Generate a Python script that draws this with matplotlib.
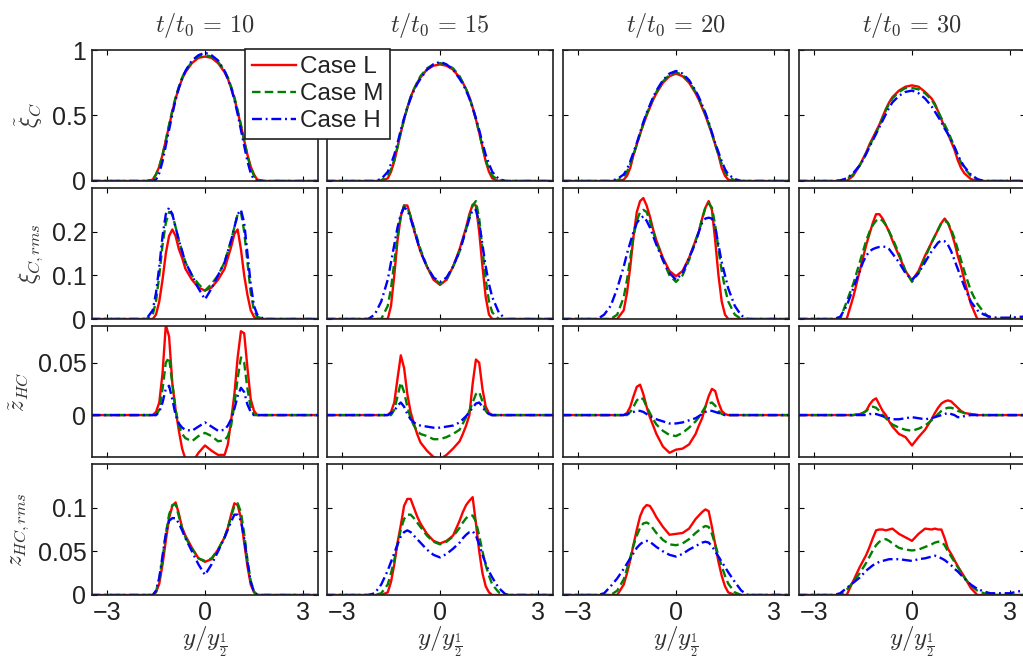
import numpy as np
import matplotlib
matplotlib.use('Agg')
import matplotlib.pyplot as plt

# ---------------- data ----------------
X = [-3.5, -3.0, -2.6, -2.4, -2.2, -2.0, -1.8,
     -1.6, -1.5, -1.4, -1.3, -1.2, -1.1, -1.0, -0.9, -0.8, -0.7, -0.6,
     -0.4, -0.2, 0.0, 0.2, 0.4,
     0.6, 0.7, 0.8, 0.9, 1.0, 1.1, 1.2, 1.3, 1.4, 1.5, 1.6,
     1.8, 2.0, 2.2, 2.4, 2.6, 3.0, 3.5]

times = [10, 15, 20, 30]
cases = ['Case L', 'Case M', 'Case H']

# row 1: filtered mixture fraction xi_C
xiC_t10 = [
    [0,0,0,0,0,0,0, 0.01,0.05,0.11,0.20,0.31,0.42,0.53,0.63,0.71,0.78,0.83, 0.90,0.94, 0.95, 0.94,0.90, 0.83,0.78,0.71,0.63,0.53,0.42,0.31,0.20,0.11,0.05,0.01, 0,0,0,0,0,0,0],
    [0,0,0,0,0,0,0, 0.01,0.05,0.11,0.20,0.31,0.43,0.54,0.64,0.72,0.79,0.84, 0.91,0.95, 0.96, 0.95,0.91, 0.84,0.79,0.72,0.64,0.54,0.43,0.31,0.19,0.10,0.04,0.01, 0,0,0,0,0,0,0],
    [0,0,0,0,0,0,0, 0,0.01,0.06,0.15,0.27,0.39,0.51,0.62,0.71,0.78,0.84, 0.92,0.96, 0.98, 0.96,0.92, 0.84,0.78,0.71,0.62,0.51,0.39,0.27,0.15,0.06,0.01,0, 0,0,0,0,0,0,0]]
xiC_t15 = [
    [0,0,0,0,0,0,0, 0.02,0.07,0.15,0.26,0.37,0.47,0.56,0.64,0.70,0.75,0.79, 0.85,0.88, 0.89, 0.88,0.85, 0.79,0.75,0.70,0.64,0.56,0.47,0.37,0.26,0.15,0.07,0.02, 0,0,0,0,0,0,0],
    [0,0,0,0,0,0,0.005, 0.04,0.09,0.16,0.26,0.37,0.47,0.56,0.64,0.70,0.75,0.80, 0.86,0.89, 0.90, 0.89,0.86, 0.80,0.75,0.70,0.64,0.56,0.47,0.37,0.26,0.16,0.09,0.04, 0.005,0,0,0,0,0,0],
    [0,0,0,0,0,0,0.015, 0.07,0.13,0.20,0.29,0.39,0.48,0.56,0.63,0.69,0.74,0.78, 0.85,0.89, 0.91, 0.89,0.85, 0.78,0.74,0.69,0.63,0.56,0.48,0.39,0.29,0.20,0.13,0.07, 0.015,0,0,0,0,0,0]]
xiC_t20 = [
    [0,0,0,0,0,0,0, 0.01,0.04,0.10,0.20,0.28,0.36,0.43,0.50,0.56,0.62,0.67, 0.75,0.80, 0.82, 0.80,0.75, 0.67,0.62,0.56,0.50,0.43,0.36,0.28,0.20,0.10,0.04,0.01, 0,0,0,0,0,0,0],
    [0,0,0,0,0,0,0.005, 0.03,0.07,0.13,0.20,0.28,0.36,0.44,0.51,0.57,0.63,0.68, 0.76,0.81, 0.83, 0.81,0.76, 0.68,0.63,0.57,0.51,0.44,0.36,0.28,0.20,0.13,0.07,0.03, 0.005,0,0,0,0,0,0],
    [0,0,0,0,0,0,0.015, 0.05,0.09,0.15,0.22,0.29,0.37,0.45,0.52,0.58,0.64,0.69, 0.77,0.82, 0.84, 0.82,0.77, 0.69,0.64,0.58,0.52,0.45,0.37,0.29,0.22,0.15,0.09,0.05, 0.015,0,0,0,0,0,0]]
xiC_t30 = [
    [0,0,0,0,0,0,0.04, 0.12,0.17,0.22,0.28,0.33,0.38,0.43,0.49,0.55,0.60,0.64, 0.69,0.72, 0.73, 0.72,0.68, 0.63,0.59,0.53,0.47,0.41,0.36,0.30,0.24,0.16,0.10,0.06, 0.015,0,0,0,0,0,0],
    [0,0,0,0,0,0.015,0.05, 0.12,0.16,0.21,0.27,0.32,0.37,0.42,0.48,0.54,0.59,0.63, 0.68,0.71, 0.71, 0.70,0.67, 0.62,0.58,0.53,0.48,0.43,0.38,0.32,0.26,0.20,0.14,0.10, 0.04,0.01,0,0,0,0,0],
    [0,0,0,0,0.005,0.02,0.06, 0.12,0.16,0.21,0.26,0.31,0.36,0.41,0.46,0.51,0.56,0.60, 0.65,0.68, 0.69, 0.67,0.63, 0.57,0.53,0.49,0.45,0.40,0.36,0.31,0.26,0.20,0.15,0.11, 0.05,0.015,0,0,0,0,0]]

# row 2: xi_C,rms
xirms_t10 = [
    [0,0,0,0,0,0,0, 0,0.01,0.04,0.09,0.15,0.19,0.205,0.19,0.16,0.14,0.115, 0.09,0.072, 0.065, 0.072,0.09, 0.115,0.14,0.165,0.195,0.205,0.16,0.10,0.055,0.02,0.005,0, 0,0,0,0,0,0,0],
    [0,0,0,0,0,0,0, 0.01,0.04,0.10,0.17,0.22,0.245,0.24,0.21,0.18,0.155,0.13, 0.10,0.08, 0.065, 0.08,0.10, 0.13,0.155,0.18,0.21,0.24,0.245,0.20,0.13,0.06,0.02,0.005, 0,0,0,0,0,0,0],
    [0,0,0,0,0,0,0, 0.02,0.06,0.12,0.19,0.24,0.255,0.24,0.21,0.18,0.155,0.13, 0.10,0.07, 0.045, 0.07,0.10, 0.13,0.155,0.18,0.21,0.24,0.25,0.22,0.15,0.08,0.03,0.01, 0,0,0,0,0,0,0]]
xirms_t15 = [
    [0,0,0,0,0,0,0, 0,0.03,0.10,0.18,0.235,0.26,0.26,0.235,0.205,0.18,0.155, 0.12,0.09, 0.078, 0.09,0.12, 0.16,0.185,0.21,0.24,0.262,0.26,0.20,0.12,0.05,0.01,0, 0,0,0,0,0,0,0],
    [0,0,0,0,0,0,0, 0.03,0.07,0.13,0.19,0.235,0.26,0.255,0.235,0.21,0.185,0.16, 0.12,0.095, 0.08, 0.09,0.12, 0.155,0.18,0.205,0.235,0.26,0.27,0.23,0.16,0.09,0.04,0.015, 0,0,0,0,0,0,0],
    [0,0,0,0,0,0.01,0.04, 0.09,0.13,0.17,0.21,0.24,0.255,0.25,0.23,0.205,0.18,0.155, 0.12,0.095, 0.085, 0.095,0.12, 0.155,0.18,0.205,0.23,0.25,0.25,0.22,0.17,0.12,0.08,0.05, 0.015,0,0,0,0,0,0]]
xirms_t20 = [
    [0,0,0,0,0,0,0, 0.02,0.06,0.12,0.19,0.245,0.27,0.277,0.26,0.235,0.205,0.18, 0.14,0.11, 0.098, 0.11,0.14, 0.18,0.20,0.23,0.255,0.27,0.25,0.18,0.10,0.04,0.01,0, 0,0,0,0,0,0,0],
    [0,0,0,0,0,0,0.01, 0.05,0.09,0.14,0.19,0.225,0.245,0.25,0.245,0.225,0.20,0.175, 0.135,0.10, 0.085, 0.10,0.135, 0.18,0.20,0.23,0.255,0.265,0.255,0.215,0.16,0.11,0.07,0.04, 0.01,0,0,0,0,0,0],
    [0,0,0,0,0.01,0.03,0.07, 0.12,0.15,0.175,0.20,0.22,0.23,0.235,0.225,0.21,0.19,0.17, 0.135,0.105, 0.09, 0.105,0.14, 0.175,0.20,0.22,0.23,0.232,0.23,0.21,0.17,0.13,0.10,0.07, 0.03,0.008,0,0,0,0,0]]
xirms_t30 = [
    [0,0,0,0,0,0,0.05, 0.11,0.14,0.17,0.195,0.22,0.24,0.24,0.23,0.215,0.20,0.18, 0.145,0.11, 0.088, 0.11,0.145, 0.175,0.19,0.205,0.22,0.23,0.22,0.20,0.175,0.145,0.12,0.09, 0.035,0,0,0,0,0,0],
    [0,0,0,0,0,0.04,0.08, 0.13,0.155,0.18,0.20,0.215,0.225,0.23,0.225,0.215,0.20,0.185, 0.15,0.11, 0.085, 0.105,0.14, 0.175,0.19,0.205,0.22,0.225,0.22,0.205,0.185,0.16,0.135,0.11, 0.065,0.035,0.015,0,0,0,0],
    [0,0,0,0,0.005,0.03,0.07, 0.11,0.13,0.145,0.155,0.16,0.163,0.165,0.166,0.165,0.16,0.15, 0.13,0.105, 0.09, 0.105,0.13, 0.155,0.165,0.175,0.18,0.178,0.17,0.155,0.135,0.115,0.095,0.075, 0.04,0.02,0.01,0.005,0.003,0.003,0.006]]

# row 3: filtered z_HC
zHC_t10 = [
    [0,0,0,0,0,0,0, 0,0.003,0.012,0.04,0.086,0.075,0.03,0.005,-0.015,-0.032,-0.042, -0.046,-0.036, -0.029, -0.034,-0.038, -0.038,-0.028,-0.005,0.02,0.055,0.08,0.078,0.045,0.015,0.004,0, 0,0,0,0,0,0,0],
    [0,0,0,0,0,0,0, 0,0,0.005,0.025,0.05,0.055,0.03,0.005,-0.01,-0.018,-0.022, -0.025,-0.02, -0.017, -0.02,-0.025, -0.024,-0.02,-0.01,0.01,0.035,0.055,0.05,0.025,0.007,0,0, 0,0,0,0,0,0,0],
    [0,0,0,0,0,0,0, 0,0,0.003,0.012,0.025,0.028,0.015,0,-0.008,-0.012,-0.014, -0.015,-0.011, -0.007, -0.011,-0.015, -0.014,-0.01,-0.004,0.006,0.018,0.026,0.022,0.01,0.003,0,0, 0,0,0,0,0,0,0]]
zHC_t15 = [
    [0,0,0,0,0,0,0, 0,0.003,0.012,0.035,0.057,0.045,0.02,0.003,-0.008,-0.018,-0.026, -0.034,-0.04, -0.042, -0.038,-0.032, -0.025,-0.018,-0.01,0.0,0.03,0.053,0.05,0.025,0.008,0.002,0, 0,0,0,0,0,0,0],
    [0,0,0,0,0,0,0, 0,0,0.005,0.018,0.031,0.022,0.008,-0.003,-0.01,-0.015,-0.018, -0.02,-0.023, -0.023, -0.021,-0.018, -0.014,-0.008,-0.002,0.004,0.012,0.02,0.022,0.013,0.004,0,0, 0,0,0,0,0,0,0],
    [0,0,0,0,0,0,0, 0,0.002,0.004,0.009,0.012,0.008,0.001,-0.004,-0.007,-0.009,-0.01, -0.011,-0.012, -0.012, -0.011,-0.01, -0.007,-0.004,-0.001,0.003,0.007,0.011,0.012,0.008,0.003,0.001,0, 0,0,0,0,0,0,0]]
zHC_t20 = [
    [0,0,0,0,0,0,0, 0,0.002,0.008,0.018,0.027,0.029,0.02,0.008,-0.002,-0.01,-0.018, -0.03,-0.036, -0.033, -0.032,-0.028, -0.018,-0.01,-0.003,0.008,0.018,0.025,0.023,0.012,0.004,0.001,0, 0,0,0,0,0,0,0],
    [0,0,0,0,0,0,0, 0,0,0.003,0.008,0.014,0.017,0.015,0.008,0.002,-0.004,-0.009, -0.015,-0.019, -0.02, -0.017,-0.012, -0.006,-0.002,0.003,0.008,0.011,0.012,0.009,0.004,0.001,0,0, 0,0,0,0,0,0,0],
    [0,0,0,0,0,0,0, 0,0.001,0.002,0.003,0.004,0.004,0.003,0.001,-0.001,-0.003,-0.004, -0.006,-0.008, -0.008, -0.007,-0.005, -0.003,-0.001,0.001,0.003,0.004,0.004,0.003,0.002,0.001,0,0, 0,0,0,0,0,0,0]]
zHC_t30 = [
    [0,0,0,0,0,0,0, 0.001,0.002,0.004,0.01,0.014,0.016,0.01,0.004,0.0,-0.006,-0.011, -0.018,-0.021, -0.029, -0.021,-0.014, -0.004,0.002,0.007,0.011,0.013,0.014,0.013,0.01,0.007,0.004,0.002, 0.001,0,0,0,0,0,0],
    [0,0,0,0,0,0,0, 0.001,0.002,0.004,0.007,0.008,0.007,0.004,0.0,-0.003,-0.006,-0.009, -0.012,-0.014, -0.015, -0.013,-0.01, -0.005,-0.002,0.001,0.004,0.006,0.007,0.007,0.006,0.004,0.003,0.002, 0.001,0,0,0,0,0,0],
    [0,0,0,0,0,0,0, 0,0,0,0.001,0.001,0.001,0.0,-0.001,-0.002,-0.003,-0.004, -0.004,-0.003, -0.002, -0.003,-0.004, -0.003,-0.002,-0.001,0.0,0.001,0.002,0.001,0.0,-0.002,-0.002,-0.001, 0,0,0,0,0,0,0]]

# row 4: z_HC,rms
zrms_t10 = [
    [0,0,0,0,0,0,0, 0,0.003,0.013,0.035,0.062,0.088,0.102,0.106,0.093,0.077,0.068, 0.054,0.042, 0.038, 0.041,0.052, 0.066,0.077,0.092,0.105,0.103,0.088,0.06,0.033,0.012,0.003,0, 0,0,0,0,0,0,0],
    [0,0,0,0,0,0,0, 0,0.004,0.018,0.042,0.07,0.092,0.103,0.104,0.09,0.076,0.066, 0.053,0.042, 0.039, 0.042,0.052, 0.066,0.077,0.09,0.102,0.105,0.095,0.07,0.04,0.016,0.004,0, 0,0,0,0,0,0,0],
    [0,0,0,0,0,0,0, 0,0.005,0.02,0.045,0.07,0.085,0.088,0.088,0.082,0.074,0.065, 0.05,0.035, 0.023, 0.035,0.05, 0.066,0.075,0.084,0.092,0.092,0.085,0.065,0.038,0.015,0.004,0, 0,0,0,0,0,0,0]]
zrms_t15 = [
    [0,0,0,0,0,0,0, 0.003,0.015,0.035,0.06,0.08,0.102,0.11,0.11,0.10,0.09,0.082, 0.07,0.062, 0.059, 0.062,0.068, 0.085,0.095,0.103,0.108,0.112,0.082,0.05,0.025,0.01,0.003,0, 0,0,0,0,0,0,0],
    [0,0,0,0,0,0,0.002, 0.012,0.025,0.04,0.058,0.075,0.087,0.092,0.092,0.088,0.083,0.078, 0.068,0.061, 0.058, 0.061,0.067, 0.077,0.083,0.088,0.091,0.091,0.084,0.068,0.05,0.034,0.022,0.012, 0.003,0,0,0,0,0,0],
    [0,0,0,0,0,0.002,0.012, 0.028,0.038,0.048,0.058,0.067,0.072,0.074,0.072,0.068,0.064,0.06, 0.052,0.046, 0.043, 0.047,0.053, 0.06,0.065,0.069,0.072,0.073,0.068,0.058,0.046,0.036,0.027,0.02, 0.008,0.001,0,0,0,0,0]]
zrms_t20 = [
    [0,0,0,0,0,0,0, 0.012,0.025,0.04,0.058,0.075,0.09,0.099,0.103,0.102,0.096,0.089, 0.078,0.069, 0.07, 0.071,0.076, 0.087,0.091,0.095,0.098,0.096,0.078,0.058,0.038,0.022,0.01,0.003, 0,0,0,0,0,0,0],
    [0,0,0,0,0,0,0.005, 0.018,0.03,0.043,0.057,0.068,0.077,0.082,0.083,0.081,0.076,0.071, 0.063,0.058, 0.057, 0.059,0.064, 0.071,0.074,0.077,0.079,0.078,0.07,0.058,0.045,0.033,0.022,0.013, 0.003,0,0,0,0,0,0],
    [0,0,0,0,0.002,0.01,0.019, 0.03,0.036,0.042,0.048,0.054,0.058,0.061,0.062,0.061,0.058,0.055, 0.05,0.046, 0.044, 0.047,0.052, 0.056,0.058,0.06,0.061,0.06,0.056,0.05,0.044,0.038,0.032,0.026, 0.015,0.005,0,0,0,0,0]]
zrms_t30 = [
    [0,0,0,0,0,0,0.016, 0.032,0.039,0.046,0.055,0.065,0.074,0.075,0.075,0.074,0.075,0.076, 0.07,0.066, 0.062, 0.07,0.076, 0.075,0.076,0.075,0.075,0.065,0.053,0.047,0.04,0.033,0.027,0.021, 0.008,0,0,0,0,0,0],
    [0,0,0,0,0,0.006,0.015, 0.025,0.031,0.037,0.044,0.051,0.057,0.061,0.063,0.064,0.062,0.059, 0.054,0.052, 0.051, 0.052,0.055, 0.058,0.06,0.061,0.061,0.057,0.05,0.044,0.038,0.032,0.026,0.02, 0.011,0.005,0.002,0,0,0,0],
    [0,0,0,0,0.002,0.008,0.014, 0.02,0.024,0.028,0.031,0.034,0.036,0.038,0.039,0.04,0.041,0.041, 0.041,0.04, 0.039, 0.041,0.042, 0.044,0.045,0.044,0.042,0.04,0.037,0.034,0.03,0.027,0.023,0.019, 0.012,0.007,0.004,0.002,0.002,0.002,0.006]]

ylabels = [r'$\tilde{\xi}_C$', r'$\xi_{C,rms}$', r'$\tilde{z}_{HC}$', r'$z_{HC,rms}$']
ylims = [(0, 1), (0, 0.3), (-0.04, 0.085), (0, 0.15)]
yticks = [[0, 0.5, 1], [0, 0.1, 0.2], [0, 0.05], [0, 0.05, 0.1]]
yticklabels = [['0', '0.5', '1'], ['0', '0.1', '0.2'], ['0', '0.05'], ['0', '0.05', '0.1']]
xticks = [-3, 0, 3]
xticklabels = ['\u22123', '0', '3']

# ---------------- figure ----------------
plt.rcParams['font.family'] = ['Liberation Sans', 'DejaVu Sans']
plt.rcParams['mathtext.fontset'] = 'cm'

W, H = 1023, 660
fig = plt.figure(figsize=(W / 100, H / 100), dpi=100)

rows = [[xiC_t10, xiC_t15, xiC_t20, xiC_t30],
        [xirms_t10, xirms_t15, xirms_t20, xirms_t30],
        [zHC_t10, zHC_t15, zHC_t20, zHC_t30],
        [zrms_t10, zrms_t15, zrms_t20, zrms_t30]]

col_left = [92, 327, 563, 799]
row_top = [50, 188, 326, 464]
ax_w, ax_h = 226, 131

colors = ['#ff0000', '#008000', '#0000ff']
styles = ['-', (0, (3.6, 1.8)), (0, (4.2, 1.6, 0.8, 1.6))]
lw = 1.7

handles = []
for r in range(4):
    for c in range(4):
        ax = fig.add_axes([col_left[c] / W, 1 - (row_top[r] + ax_h) / H, ax_w / W, ax_h / H])
        for k in range(3):
            ln, = ax.plot(X, rows[r][c][k], color=colors[k], linestyle=styles[k], lw=lw,
                          label=cases[k])
            if r == 0 and c == 0:
                handles.append(ln)
        ax.set_xlim(-3.46, 3.46)
        ax.set_ylim(*ylims[r])
        ax.set_xticks(xticks)
        ax.set_yticks(yticks[r])
        ax.tick_params(direction='in', top=True, right=True, length=3.5, width=0.8,
                       labelsize=18, pad=4, labelcolor='#222222')
        for s in ax.spines.values():
            s.set_linewidth(1.2)
            s.set_color('#202020')
        if c == 0:
            ax.set_yticklabels(yticklabels[r])
            ax.set_ylabel(ylabels[r], fontsize=17, labelpad=5, color='#333333')
        else:
            ax.set_yticklabels([])
        if r == 3:
            ax.set_xticklabels(xticklabels)
            ax.set_xlabel(r'$y/y_{\frac{1}{2}}$', fontsize=18, labelpad=0, color='#333333')
        else:
            ax.set_xticklabels([])
        if r == 0:
            ax.set_title(r'$t/t_0\,=\,%d$' % times[c], fontsize=17.5, pad=13, color='#333333')

leg = fig.legend(handles=handles, loc='upper left',
                 bbox_to_anchor=(245 / W, 1 - 49 / H), fontsize=17.5,
                 frameon=True, fancybox=False, framealpha=1, edgecolor='#202020',
                 handlelength=1.8, handletextpad=0.15, labelspacing=0.2,
                 borderpad=0.3, borderaxespad=0)
for t in leg.get_texts():
    t.set_color('#222222')
leg.get_frame().set_linewidth(1.2)

fig.savefig('out.png', dpi=100)
